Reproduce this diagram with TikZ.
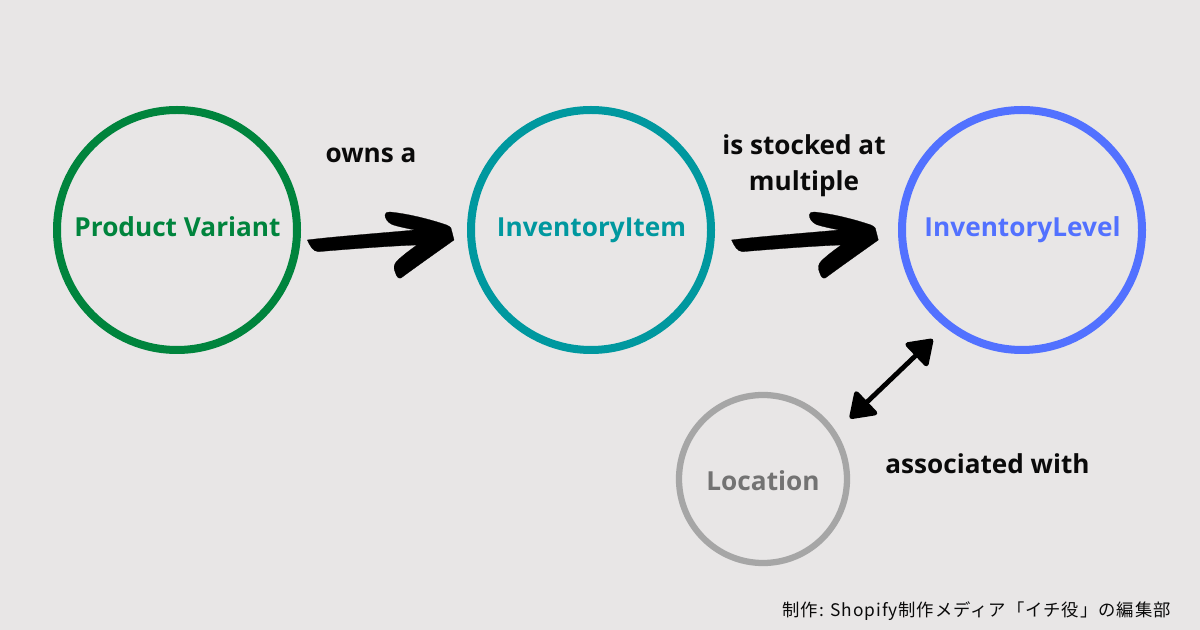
\documentclass[tikz,border=0pt]{standalone}
\usepackage{fontspec}
\setmainfont{Open Sans}
\newfontfamily\cjk[LetterSpace=5.5]{Noto Sans CJK JP}
\usetikzlibrary{arrows.meta}
\definecolor{bgc}{HTML}{E8E6E6}
\definecolor{cgreen}{HTML}{00843D}
\definecolor{cteal}{HTML}{00989F}
\definecolor{cblue}{HTML}{5271FF}
\definecolor{cgray}{HTML}{A6A6A6}
\definecolor{tgray}{HTML}{737373}
\definecolor{tdark}{HTML}{0A0A0A}
\tikzset{
  bigring/.style={circle,draw=#1,line width=6pt,minimum size=180pt,inner sep=0pt},
  smallring/.style={circle,draw=#1,line width=4.7pt,minimum size=126pt,inner sep=0pt},
  ringtext/.style={anchor=base,inner sep=0pt,font=\fontsize{19.65}{24}\bfseries,text=#1},
  caption/.style={anchor=base,inner sep=0pt,align=center,font=\fontsize{19.6}{27}\bfseries,text=tdark},
  credit/.style={anchor=base east,inner sep=0pt,font=\fontsize{13}{15}\cjk,text=tdark},
  duplex/.style={draw=black,line width=3.6pt,{Triangle[length=19.5pt,width=26pt,round]}-{Triangle[length=19.5pt,width=26pt,round]}}
}
\begin{document}
\begin{tikzpicture}[x=0.75pt,y=-0.75pt]
\useasboundingbox[fill=bgc] (0,0) rectangle (1200,630);
\node[bigring=cgreen] (pv) at (177,230) {};
\node[bigring=cteal] (ii) at (591,230) {};
\node[bigring=cblue] (il) at (1022,230) {};
\node[smallring=cgray] (loc) at (763,479) {};
\node[ringtext=cgreen] (pvt) at (177.5,237) {Product Variant};
\node[ringtext=cteal] (iit) at (591.5,237) {InventoryItem};
\node[ringtext=cblue] (ilt) at (1022.5,237) {InventoryLevel};
\node[ringtext=tgray] (loct) at (763,491) {Location};
\node[caption] (c1) at (371,163) {owns a};
\node[caption] (c2) at (804,191) {is stocked at\\multiple};
\node[caption] (c3) at (987.5,474) {associated with};
\node[credit] (cr) at (1171,617) {制作: Shopify制作メディア「イチ役」の編集部};
\foreach \dx/\nm in {0/a,424.3/b}{
\begin{scope}[xshift=\dx*0.75pt]
\fill[black,draw=black,line width=0.2pt,line join=round]
  (307.3,240) .. controls (330,237) and (370,234) .. (415,230)
  .. controls (405,228) and (396,226) .. (392,224.5)
  .. controls (387,222) and (385,218) .. (385,215)
  .. controls (385,212.5) and (387,212) .. (390,212)
  .. controls (410,214) and (432,220) .. (446.7,225)
  .. controls (451,227) and (452,229) .. (452,232)
  -- (454,240)
  .. controls (440,250) and (420,264) .. (401,278)
  .. controls (398,279) and (396.5,276) .. (395.5,273)
  .. controls (393,268) and (394,264) .. (397,261)
  .. controls (402,256) and (410,250) .. (417,245)
  .. controls (390,246) and (350,249) .. (318.3,251.7)
  .. controls (313,251.5) and (310,246) .. (307.3,240) -- cycle;
\end{scope}}
\coordinate (da) at (932.7,339.3);
\coordinate (db) at (850,418.3);
\draw[duplex] (db) -- (da);
\end{tikzpicture}
\end{document}
